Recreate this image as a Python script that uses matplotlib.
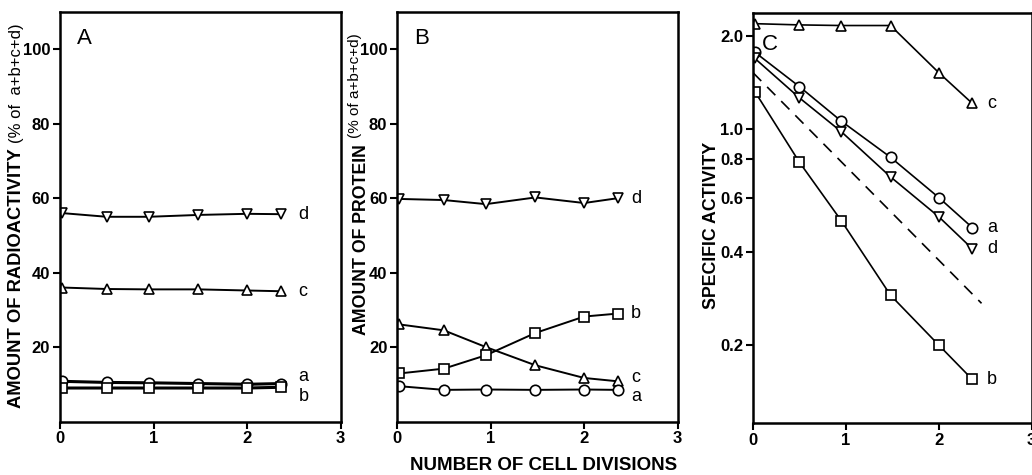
import matplotlib
matplotlib.use("Agg")
import matplotlib.pyplot as plt
from matplotlib.ticker import FixedLocator, NullLocator

plt.rcParams['font.family'] = ['Liberation Sans', 'DejaVu Sans']
plt.rcParams['font.weight'] = 'bold'

# ---------------- data ----------------
divisions = [0.02, 0.5, 0.95, 1.48, 2.0, 2.36]

# Panel A: amount of radioactivity (% of a+b+c+d)
radio_a = [10.8, 10.5, 10.4, 10.2, 10.0, 10.2]
radio_b = [9.0, 9.0, 9.0, 9.0, 9.0, 9.2]
radio_c = [36.0, 35.6, 35.5, 35.5, 35.2, 35.0]
radio_d = [56.0, 55.0, 55.0, 55.5, 55.8, 55.7]

# Panel B: amount of protein (% of a+b+c+d)
prot_a = [9.5, 8.5, 8.6, 8.5, 8.6, 8.5]
prot_b = [12.9, 14.2, 17.8, 23.8, 28.2, 29.0]
prot_c = [26.1, 24.5, 20.0, 15.1, 11.7, 10.8]
prot_d = [59.8, 59.5, 58.4, 60.2, 58.7, 60.0]

# Panel C: specific activity (log scale)
spec_a = [1.77, 1.37, 1.06, 0.81, 0.60, 0.48]
spec_b = [1.32, 0.78, 0.505, 0.29, 0.20, 0.155]
spec_c = [2.19, 2.17, 2.16, 2.16, 1.52, 1.21]
spec_d = [1.69, 1.26, 0.98, 0.70, 0.52, 0.41]
dashed_x = [0.0, 2.46]
dashed_y = [1.52, 0.273]

xticks = [0, 1, 2, 3]
pct_ticks = [20, 40, 60, 80, 100]
log_ticks = [0.2, 0.4, 0.6, 0.8, 1.0, 2.0]
log_ticklabels = ['0.2', '0.4', '0.6', '0.8', '1.0', '2.0']

# ---------------- figure ----------------
fig = plt.figure(figsize=(10.32, 4.75), dpi=100)
axA = fig.add_axes([0.0581, 0.1126, 0.272, 0.862])
axB = fig.add_axes([0.3847, 0.1126, 0.272, 0.862])
axC = fig.add_axes([0.7297, 0.1095, 0.270, 0.863])

LW = 1.4
MS = 7.5
mk = dict(markerfacecolor='white', markeredgecolor='black', markeredgewidth=1.2, color='black')
lab = dict(fontsize=13, va='center', fontweight='normal')

def style(ax):
    for s in ax.spines.values():
        s.set_linewidth(1.8)
    ax.tick_params(axis='both', direction='out', width=1.5, length=5,
                   labelsize=12, pad=2)
    ax.set_xlim(0, 3)
    ax.set_xticks(xticks)

# Panel A
axA.plot(divisions, radio_d, marker='v', ms=MS, lw=LW, **mk)
axA.plot(divisions, radio_c, marker='^', ms=MS, lw=LW, **mk)
axA.plot(divisions, radio_a, marker='o', ms=MS, lw=2.2, **mk)
axA.plot(divisions, radio_b, marker='s', ms=6.5, lw=2.2, **mk)
axA.set_ylim(0, 110)
axA.set_yticks(pct_ticks)
style(axA)
axA.text(2.55, radio_d[-1], 'd', **lab)
axA.text(2.55, radio_c[-1], 'c', **lab)
axA.text(2.55, 12.0, 'a', **lab)
axA.text(2.55, 6.8, 'b', **lab)
axA.text(0.18, 103, 'A', fontsize=16, va='center', fontweight='normal')

# Panel B
axB.plot(divisions, prot_d, marker='v', ms=MS, lw=LW, **mk)
axB.plot(divisions, prot_c, marker='^', ms=MS, lw=LW, **mk)
axB.plot(divisions, prot_b, marker='s', ms=6.5, lw=LW, **mk)
axB.plot(divisions, prot_a, marker='o', ms=MS, lw=LW, **mk)
axB.set_ylim(0, 110)
axB.set_yticks(pct_ticks)
style(axB)
axB.text(2.5, prot_d[-1], 'd', **lab)
axB.text(2.5, prot_b[-1], 'b', **lab)
axB.text(2.5, 11.8, 'c', **lab)
axB.text(2.5, 6.6, 'a', **lab)
axB.text(0.18, 103, 'B', fontsize=16, va='center', fontweight='normal')

# Panel C
axC.set_yscale('log')
axC.plot(divisions, spec_c, marker='^', ms=MS, lw=1.2, **mk)
axC.plot(divisions, spec_a, marker='o', ms=MS, lw=1.2, **mk)
axC.plot(divisions, spec_d, marker='v', ms=MS, lw=1.2, **mk)
axC.plot(divisions, spec_b, marker='s', ms=6.5, lw=1.2, **mk)
axC.plot(dashed_x, dashed_y, color='black', lw=1.2, ls=(0, (7, 5)))
axC.set_ylim(0.112, 2.37)
style(axC)
axC.yaxis.set_major_locator(FixedLocator(log_ticks))
axC.yaxis.set_minor_locator(NullLocator())
axC.set_yticklabels(log_ticklabels)
axC.text(2.52, spec_c[-1], 'c', **lab)
axC.text(2.52, spec_a[-1], 'a', **lab)
axC.text(2.52, spec_d[-1], 'd', **lab)
axC.text(2.52, spec_b[-1], 'b', **lab)
axC.text(0.1, 1.88, 'C', fontsize=16, va='center', fontweight='normal')

# axis labels
fig.text(17/1032, 1 - 278/475, 'AMOUNT OF RADIOACTIVITY', rotation=90,
         fontsize=13.2, ha='center', va='center')
fig.text(17/1032, 1 - 83/475, '(% of  a+b+c+d)', rotation=90,
         fontsize=12, ha='center', va='center', fontweight='normal')
fig.text(362/1032, 1 - 240/475, 'AMOUNT OF PROTEIN', rotation=90,
         fontsize=12.8, ha='center', va='center')
fig.text(355/1032, 1 - 86/475, '(% of a+b+c+d)', rotation=90,
         fontsize=11, ha='center', va='center', fontweight='normal')
fig.text(712/1032, 1 - 225/475, 'SPECIFIC ACTIVITY', rotation=90,
         fontsize=12.8, ha='center', va='center')
fig.text(544/1032, 1 - 466/475, 'NUMBER OF CELL DIVISIONS',
         fontsize=13.5, ha='center', va='center')

fig.savefig('out.png', dpi=100)
